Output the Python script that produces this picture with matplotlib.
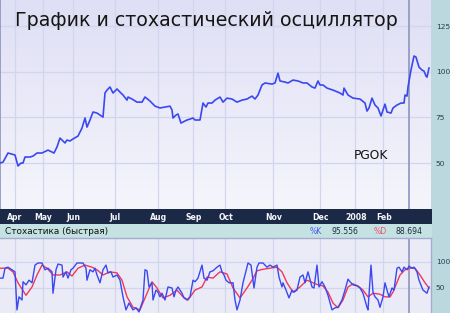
import matplotlib
matplotlib.use("Agg")
import matplotlib.pyplot as plt
import numpy as np
from matplotlib.colors import LinearSegmentedColormap

# ---------------- data ----------------
title = "График и стохастический осциллятор"
ticker = "PGOK"
stoch_title = "Стохастика (быстрая)"
k_label, k_value = "%K", "95.556"
d_label, d_value = "%D", "88.694"

month_labels = ["Apr", "May", "Jun", "Jul", "Aug", "Sep", "Oct", "Nov", "Dec", "2008", "Feb"]
month_pos = [15, 43, 73, 115, 158, 193, 225, 273, 320, 355, 383]
mar_pos = 409

price_ticks = [50, 75, 100, 125]
stoch_ticks = [50, 100]

price_t = [0, 3, 8, 12, 15, 18, 21, 23, 25, 30, 33, 37, 42, 48, 52, 54, 57, 60, 63, 65,
           67, 70, 73, 78, 82, 85, 87, 90, 93, 97, 100, 103, 105, 107, 110, 113, 117, 120,
           123, 127, 128, 132, 137, 142, 145, 150, 155, 160, 165, 170, 172, 173, 176, 178,
           181, 183, 187, 190, 193, 195, 200, 203, 206, 208, 212, 215, 220, 223, 227, 232,
           237, 242, 247, 252, 255, 258, 262, 265, 272, 275, 278, 280, 285, 288, 293, 298,
           303, 307, 312, 315, 318, 320, 323, 327, 333, 340, 343, 344, 348, 353, 360, 365,
           367, 369, 372, 375, 378, 381, 383, 385, 387, 391, 393, 397, 401, 404, 405, 407,
           408, 411, 414, 416, 419, 422, 424, 426, 427, 429]
price_v = [50.0, 50.5, 55.5, 54.9, 54.4, 48.4, 50.0, 50.0, 53.3, 53.3, 53.8, 55.5, 55.5,
           57.1, 56.0, 55.5, 58.8, 63.7, 62.1, 61.0, 62.6, 62.1, 63.2, 64.8, 69.2, 74.7,
           69.7, 73.6, 78.0, 77.4, 76.3, 75.2, 88.4, 90.0, 91.7, 88.4, 90.6, 88.9, 87.3,
           84.5, 86.2, 85.1, 83.4, 83.4, 86.2, 84.0, 81.2, 80.2, 80.7, 81.2, 79.1, 74.7,
           76.3, 76.9, 71.9, 72.5, 73.6, 74.1, 74.7, 73.6, 73.6, 82.9, 80.7, 82.9, 82.9,
           84.5, 86.2, 83.4, 85.6, 85.1, 83.4, 84.5, 85.1, 86.7, 85.1, 87.3, 92.8, 93.9,
           93.3, 93.9, 99.3, 95.0, 94.4, 93.9, 95.5, 95.0, 93.9, 93.9, 91.7, 91.1, 95.0,
           92.8, 92.8, 91.1, 90.0, 88.4, 87.3, 91.1, 87.3, 85.6, 85.1, 82.9, 78.5, 80.2,
           85.6, 81.8, 80.2, 75.8, 79.1, 82.3, 78.0, 77.4, 80.2, 81.8, 82.9, 82.9, 87.3,
           86.7, 91.7, 101.0, 108.7, 108.1, 102.6, 101.0, 100.4, 97.7, 97.1, 102.1]

k_t = [0, 3, 5, 8, 12, 15, 17, 19, 22, 23, 26, 29, 32, 35, 38, 42, 45, 48, 52, 53, 56, 58,
       62, 63, 66, 68, 71, 73, 77, 83, 86, 87, 90, 93, 95, 97, 100, 103, 106, 108, 111, 113,
       117, 120, 123, 126, 129, 133, 136, 139, 143, 145, 147, 149, 152, 153, 156, 158, 160,
       162, 165, 168, 172, 174, 176, 178, 182, 184, 187, 190, 193, 195, 198, 202, 204, 207,
       210, 213, 217, 220, 222, 224, 226, 229, 233, 235, 237, 240, 243, 247, 248, 251, 253,
       254, 257, 259, 263, 267, 270, 273, 277, 279, 282, 283, 286, 289, 292, 294, 297, 300,
       303, 305, 308, 312, 314, 317, 319, 322, 325, 328, 332, 335, 338, 342, 345, 348, 350,
       353, 357, 360, 363, 367, 368, 371, 373, 375, 378, 380, 383, 385, 387, 389, 392, 394,
       397, 399, 402, 404, 407, 409, 412, 414, 417, 419, 423, 427, 429]
k_v = [69, 69, 88, 90, 85, 81, 8, 33, 27, 62, 56, 65, 60, 94, 98, 98, 85, 88, 81, 40, 85, 96,
       94, 71, 81, 69, 85, 88, 98, 98, 88, 65, 85, 81, 88, 75, 60, 85, 94, 79, 81, 71, 75, 65,
       33, 8, 21, 8, 12, 4, 27, 85, 83, 52, 60, 27, 46, 42, 33, 40, 27, 52, 50, 33, 46, 52,
       40, 31, 27, 33, 65, 62, 69, 94, 69, 65, 81, 83, 90, 94, 81, 75, 65, 60, 60, 27, 8, 27,
       60, 90, 98, 94, 65, 50, 90, 98, 98, 90, 94, 90, 94, 71, 52, 60, 46, 31, 46, 42, 46,
       71, 75, 60, 81, 52, 50, 94, 52, 62, 52, 36, 8, 12, 13, 27, 46, 67, 62, 56, 54, 50, 40,
       13, 8, 94, 42, 33, 27, 13, 33, 60, 46, 33, 50, 46, 88, 90, 81, 90, 85, 92, 88, 90, 81,
       65, 46, 40, 52]

d_t = [0, 8, 13, 18, 26, 32, 37, 42, 47, 53, 60, 67, 72, 78, 85, 92, 97, 103, 110, 117, 122,
       127, 133, 140, 147, 152, 157, 163, 170, 177, 183, 188, 195, 202, 207, 213, 220, 227,
       233, 240, 247, 252, 257, 263, 270, 277, 282, 287, 293, 300, 307, 313, 318, 323, 328,
       333, 338, 343, 348, 353, 358, 363, 368, 373, 380, 385, 390, 393, 400, 405, 410, 415,
       420, 425, 429]
d_v = [88, 88, 81, 60, 36, 52, 75, 94, 88, 75, 75, 81, 73, 88, 94, 90, 85, 75, 81, 79, 65,
       33, 13, 8, 40, 62, 50, 31, 36, 46, 33, 27, 46, 52, 71, 69, 81, 77, 50, 31, 50, 65, 83,
       86, 88, 90, 81, 60, 42, 52, 65, 60, 56, 54, 42, 21, 12, 27, 52, 58, 54, 46, 33, 40, 38,
       33, 33, 42, 75, 85, 88, 88, 75, 60, 50]

# ---------------- styles ----------------
W, H = 450, 313
strip_col = "#bcd8df"
header_col = "#c5e2e3"
navy = "#1b2946"
grid_col = "#d2d5ee"
blue = "#3a48f0"
red = "#f0385a"
tick_col = "#2c3b4c"
XMAX = 431

fig = plt.figure(figsize=(W / 100, H / 100), dpi=100, facecolor=strip_col)

def fr(x0, y0, x1, y1):
    return [x0 / W, 1 - y1 / H, (x1 - x0) / W, (y1 - y0) / H]

# ---- main price panel ----
ax = fig.add_axes(fr(0, 0, XMAX, 209))
ylo, yhi = 24.8, 139.4
cmap = LinearSegmentedColormap.from_list("bg", ["#dfdff5", "#f5f5fc"])
ax.imshow(np.linspace(0, 1, 256).reshape(-1, 1), extent=[0, XMAX, ylo, yhi],
          aspect="auto", cmap=cmap, zorder=0, interpolation="bilinear")
ax.set_xlim(0, XMAX)
ax.set_ylim(ylo, yhi)
ax.set_xticks(month_pos)
ax.set_yticks(price_ticks)
ax.grid(True, color=grid_col, lw=0.9, zorder=1)
ax.yaxis.tick_right()
ax.tick_params(axis="y", length=0, pad=3.5, labelsize=5.4, labelcolor=tick_col)
ax.tick_params(axis="x", length=0, labelbottom=False)
for s in ["top", "bottom", "right"]:
    ax.spines[s].set_visible(False)
ax.spines["left"].set_color("#8a92c0")
ax.spines["left"].set_linewidth(1.2)
ax.axvline(mar_pos, color="#959bc2", lw=1.3, zorder=2)
ax.plot(price_t, price_v, color=blue, lw=1.2, zorder=3)
fig.text(354 / W, 1 - 155.5 / H, ticker, fontsize=8.8, color="#111111", va="center", ha="left")
fig.text(15 / W, 1 - 21 / H, title, fontsize=13.7, color="#151515", va="center", ha="left")

# ---- navy month bar ----
bar = fig.add_axes(fr(0, 209, 432, 224))
bar.set_facecolor(navy)
bar.set_xlim(0, XMAX)
bar.set_ylim(0, 1)
bar.set_xticks([])
bar.set_yticks([])
for s in bar.spines.values():
    s.set_visible(False)
for p, lab in zip(month_pos, month_labels):
    bar.text(p, 0.45, lab, color="#f4f6fa", fontsize=5.6, ha="center", va="center",
             fontweight="bold")

# ---- header bar ----
hdr = fig.add_axes(fr(0, 224, 432, 238))
hdr.set_facecolor(header_col)
hdr.set_xticks([])
hdr.set_yticks([])
for s in hdr.spines.values():
    s.set_visible(False)
fig.text(5 / W, 1 - 231.5 / H, stoch_title, fontsize=6.4, color="#111111", va="center")
fig.text(310 / W, 1 - 231.5 / H, k_label, fontsize=5.6, color="#4a5cf0", va="center")
fig.text(331 / W, 1 - 231.5 / H, k_value, fontsize=5.6, color="#1e2c40", va="center")
fig.text(374 / W, 1 - 231.5 / H, d_label, fontsize=5.6, color="#f05070", va="center")
fig.text(395 / W, 1 - 231.5 / H, d_value, fontsize=5.6, color="#1e2c40", va="center")

# ---- stochastic panel ----
ax2 = fig.add_axes(fr(0, 238, XMAX, 313))
ax2.set_facecolor("#ebebf8")
ax2.set_xlim(0, XMAX)
ax2.set_ylim(2, 146)
ax2.set_xticks(month_pos)
ax2.set_yticks(stoch_ticks)
ax2.grid(True, color=grid_col, lw=0.9, zorder=1)
ax2.yaxis.tick_right()
ax2.tick_params(axis="y", length=0, pad=3.5, labelsize=5.4, labelcolor=tick_col)
ax2.tick_params(axis="x", length=0, labelbottom=False)
for s in ["bottom", "left"]:
    ax2.spines[s].set_visible(False)
for s in ["top", "right"]:
    ax2.spines[s].set_color("#a4abcc")
    ax2.spines[s].set_linewidth(1.0)
ax2.axvline(mar_pos, color="#959bc2", lw=1.3, zorder=2)
ax2.plot(d_t, d_v, color=red, lw=1.0, zorder=3)
ax2.plot(k_t, k_v, color=blue, lw=1.0, zorder=4)

fig.savefig("out.png", dpi=100, facecolor=fig.get_facecolor())
